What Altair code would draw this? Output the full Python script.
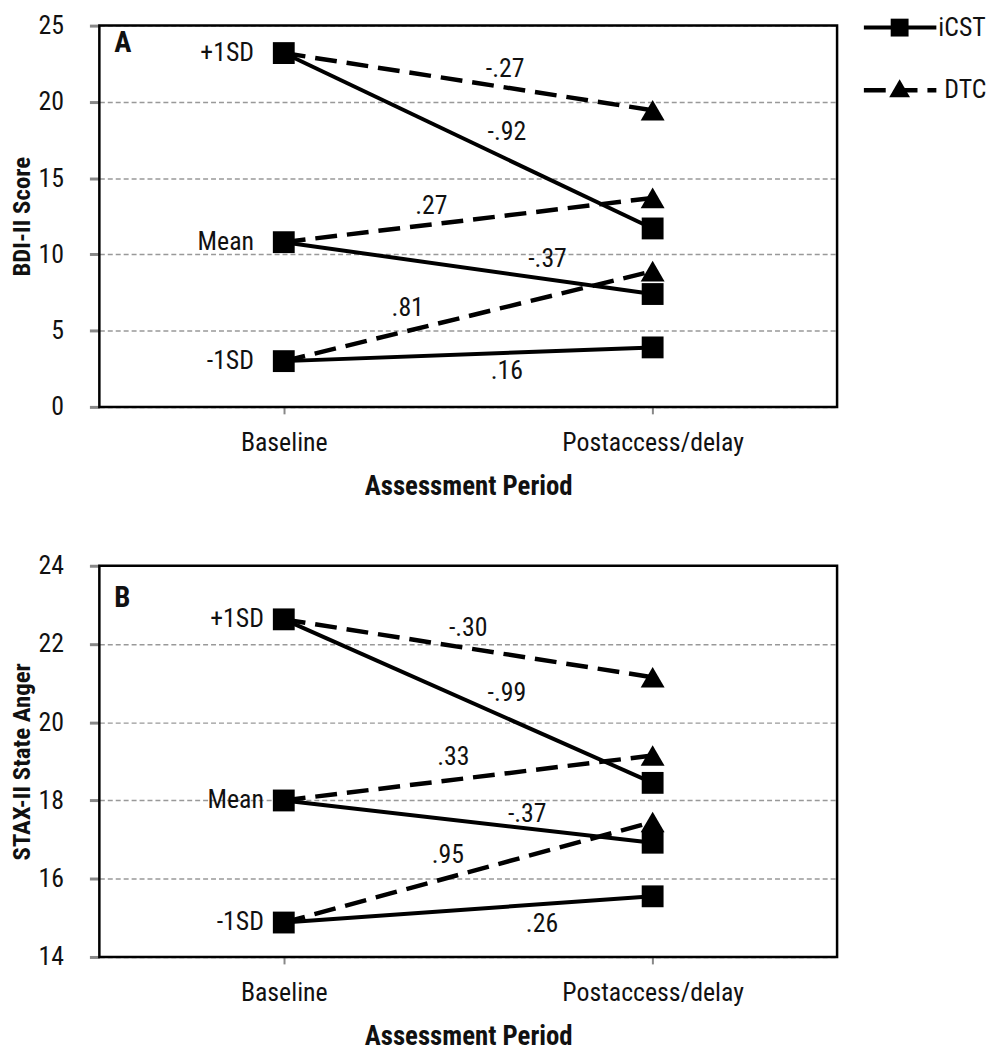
import altair as alt
import pandas as pd

# ---------------- data ----------------
period_x = [0, 1]
period_labels = ["Baseline", "Postaccess/delay"]
levels = ["+1SD", "Mean", "-1SD"]
group_names = ["iCST", "DTC"]

# Panel A: BDI-II Score
a_baseline = [23.2, 10.8, 3.0]
a_icst_post = [11.7, 7.4, 3.9]
a_dtc_post = [19.45, 13.7, 8.9]
a_eff_icst = ["-.92", "-.37", ".16"]
a_eff_icst_x = [0.605, 0.715, 0.605]
a_eff_icst_y = [18.0, 9.7, 2.35]
a_eff_dtc = ["-.27", ".27", ".81"]
a_eff_dtc_x = [0.60, 0.40, 0.336]
a_eff_dtc_y = [22.15, 13.2, 6.45]
a_ticks = [0, 5, 10, 15, 20, 25]

# Panel B: STAX-II State Anger
b_baseline = [22.63, 18.0, 14.88]
b_icst_post = [18.45, 16.92, 15.55]
b_dtc_post = [21.15, 19.15, 17.45]
b_eff_icst = ["-.99", "-.37", ".26"]
b_eff_icst_x = [0.605, 0.66, 0.70]
b_eff_icst_y = [20.75, 17.65, 14.84]
b_eff_dtc = ["-.30", ".33", ".95"]
b_eff_dtc_x = [0.50, 0.46, 0.445]
b_eff_dtc_y = [22.4, 19.1, 16.6]
b_ticks = [14, 16, 18, 20, 22, 24]

# ---------------- style ----------------
FONT = "'Liberation Sans Narrow', 'Arial Narrow', 'Roboto Condensed', 'Liberation Sans', sans-serif"
W = 743
TXT = "#111111"


def panel(baseline, icst_post, dtc_post, eff_i, eff_ix, eff_iy, eff_d, eff_dx, eff_dy,
          ticks, ytitle, letter, level_dx, height, letter_y, legend=False):
    rows = []
    for g, post in zip(group_names, [icst_post, dtc_post]):
        for lv, b, p in zip(levels, baseline, post):
            rows.append({"group": g, "level": lv, "x": period_x[0], "y": b})
            rows.append({"group": g, "level": lv, "x": period_x[1], "y": p})
    df = pd.DataFrame(rows)
    eff = pd.DataFrame({
        "x": eff_ix + eff_dx,
        "y": eff_iy + eff_dy,
        "label": eff_i + eff_d,
    })
    lvl = pd.DataFrame({"x": [period_x[0]] * 3, "y": baseline, "label": levels})

    label_expr = f"datum.value == {period_x[0]} ? '{period_labels[0]}' : '{period_labels[1]}'"
    xenc = alt.X("x:Q", scale=alt.Scale(domain=[-0.5, 1.5]),
                 axis=alt.Axis(values=period_x, labelExpr=label_expr, title="Assessment Period",
                               grid=False, domain=False, tickSize=7, tickColor="#888888",
                               tickWidth=2, labelPadding=16, titlePadding=18, labelLimit=0,
                               labelFont=FONT, labelFontSize=26, labelColor=TXT,
                               titleFont=FONT, titleFontSize=27, titleFontWeight="bold",
                               titleColor=TXT))
    yenc = alt.Y("y:Q", scale=alt.Scale(domain=[ticks[0], ticks[-1]], nice=False, zero=False),
                 axis=alt.Axis(values=ticks, title=ytitle, grid=True, gridColor="#999999",
                               gridDash=[5, 3], gridWidth=1.5, domain=False, tickSize=10,
                               tickColor="#888888", tickWidth=3, labelPadding=26,
                               labelFont=FONT, labelFontSize=26, labelColor=TXT,
                               titleFont=FONT, titleFontSize=25, titleFontWeight="bold",
                               titleColor=TXT, titlePadding=4))

    base = alt.Chart(df)
    icst = base.transform_filter(f"datum.group == '{group_names[0]}'")
    dtc = base.transform_filter(f"datum.group == '{group_names[1]}'")

    dtc_line = dtc.mark_line(color="black", strokeWidth=4.5, strokeDash=[22, 10]).encode(
        x=xenc, y=yenc, detail="level:N")
    icst_line = icst.mark_line(color="black", strokeWidth=4).encode(
        x=xenc, y=yenc, detail="level:N")
    dtc_pts = dtc.transform_filter(f"datum.x == {period_x[1]}").mark_point(
        shape="triangle-up", filled=True, color="black", opacity=1, size=580).encode(x=xenc, y=yenc)
    icst_pts = icst.mark_point(shape="square", filled=True, color="black", opacity=1,
                               size=484).encode(x=xenc, y=yenc)
    eff_txt = alt.Chart(eff).mark_text(font=FONT, fontSize=26, color=TXT).encode(
        x=xenc, y=yenc, text="label:N")
    lvl_txt = alt.Chart(lvl).mark_text(font=FONT, fontSize=26, color=TXT, align="right",
                                       baseline="middle", dx=level_dx).encode(
        x=xenc, y=yenc, text="label:N")

    one = alt.Data(values=[{"t": letter}])
    letter_txt = alt.Chart(one).mark_text(font=FONT, fontSize=29, fontWeight="bold", color=TXT,
                                          align="left", baseline="middle").encode(
        x=alt.value(15), y=alt.value(letter_y), text="t:N")
    frame = alt.Chart(alt.Data(values=[{"a": 1}])).mark_rect(
        fillOpacity=0, stroke="black", strokeWidth=2.5).encode(
        x=alt.value(0), x2=alt.value(W), y=alt.value(0), y2=alt.value(height))

    layers = [dtc_line, icst_line, dtc_pts, icst_pts, eff_txt, lvl_txt, letter_txt, frame]

    if legend:
        l1 = alt.Data(values=[{"name": group_names[0]}])
        l2 = alt.Data(values=[{"name": group_names[1]}])
        layers += [
            alt.Chart(l1).mark_rule(color="black", strokeWidth=4).encode(
                x=alt.value(770), x2=alt.value(843), y=alt.value(2)),
            alt.Chart(l1).mark_point(shape="square", filled=True, color="black", opacity=1,
                                     size=324).encode(x=alt.value(806), y=alt.value(2)),
            alt.Chart(l1).mark_text(font=FONT, fontSize=26, color=TXT, align="left",
                                    baseline="middle").encode(
                x=alt.value(845), y=alt.value(2), text="name:N"),
            alt.Chart(l2).mark_rule(color="black", strokeWidth=4.5, strokeDash=[22, 10]).encode(
                x=alt.value(770), x2=alt.value(843), y=alt.value(65)),
            alt.Chart(l2).mark_point(shape="triangle-up", filled=True, color="black", opacity=1,
                                     size=440).encode(x=alt.value(806), y=alt.value(63)),
            alt.Chart(l2).mark_text(font=FONT, fontSize=26, color=TXT, align="left",
                                    baseline="middle").encode(
                x=alt.value(851), y=alt.value(65), text="name:N"),
        ]
    return alt.layer(*layers).properties(width=W, height=height)


chart_a = panel(a_baseline, a_icst_post, a_dtc_post, a_eff_icst, a_eff_icst_x, a_eff_icst_y,
                a_eff_dtc, a_eff_dtc_x, a_eff_dtc_y, a_ticks, "BDI-II Score", "A", -30,
                384, 18, legend=True)
chart_b = panel(b_baseline, b_icst_post, b_dtc_post, b_eff_icst, b_eff_icst_x, b_eff_icst_y,
                b_eff_dtc, b_eff_dtc_x, b_eff_dtc_y, b_ticks, "STAX-II State Anger", "B", -20,
                394, 33)

chart = alt.vconcat(chart_a, chart_b, spacing=52).properties(
    padding={"left": 0, "top": 0, "right": 0, "bottom": 0}
).configure_view(stroke=None).configure(background="white")

chart.save("out.html", embed_options={"renderer": "svg", "actions": False})
